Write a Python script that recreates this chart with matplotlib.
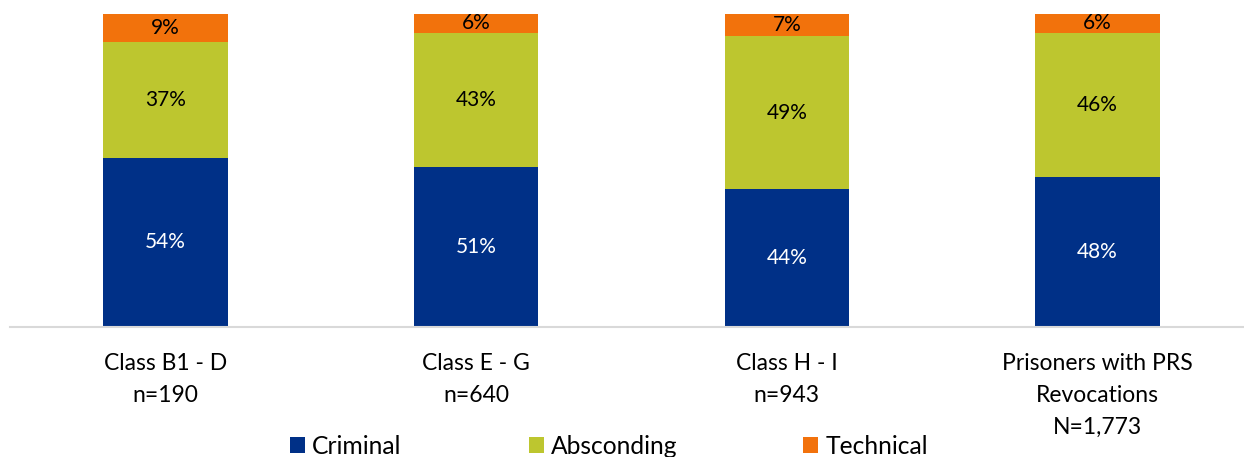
import matplotlib
matplotlib.use("Agg")
import matplotlib.pyplot as plt
import numpy as np

categories = ["Class B1 - D\nn=190", "Class E - G\nn=640", "Class H - I\nn=943",
              "Prisoners with PRS\nRevocations\nN=1,773"]
criminal = [54, 51, 44, 48]
absconding = [37, 43, 49, 46]
technical = [9, 6, 7, 6]
series_names = ["Criminal", "Absconding", "Technical"]
colors = ["#003087", "#BDC62F", "#F2720C"]

plt.rcParams['font.family'] = ['Lato', 'DejaVu Sans']

W, H = 1244, 457
fig = plt.figure(figsize=(W / 100, H / 100), dpi=100)
ax = fig.add_axes([10 / W, (H - 327) / H, 1243 / W, 313 / H])

x = np.arange(len(categories))
bw = 0.40
series = [criminal, absconding, technical]
bottom = np.zeros(len(categories))
handles = []
for vals, name, col in zip(series, series_names, colors):
    vals = np.array(vals, dtype=float)
    b = ax.bar(x, vals, bw, bottom=bottom, color=col, label=name, linewidth=0)
    handles.append(b)
    tc = "white" if name == "Criminal" else "black"
    for xi, v, bt in zip(x, vals, bottom):
        ax.text(xi, bt + v / 2, f"{int(round(v))}%", ha="center", va="center",
                color=tc, fontsize=15)
    bottom += vals

ax.set_xlim(-0.5, 3.5)
ax.set_ylim(0, 100)
for s in ["top", "right", "left"]:
    ax.spines[s].set_visible(False)
ax.spines["bottom"].set_color("#D9D9D9")
ax.spines["bottom"].set_linewidth(1.5)
ax.set_yticks([])
ax.set_xticks(x)
ax.set_xticklabels(categories, fontsize=16.5, linespacing=1.62, va="top")
ax.tick_params(axis="x", length=0, pad=19)

legend_x = [290, 529, 803]
for h, name, lx in zip(handles, series_names, legend_x):
    fig.legend(handles=[h], labels=[name], loc="center left",
               bbox_to_anchor=(lx / W, (H - 446) / H), frameon=False,
               fontsize=17.7, handlelength=0.6, handleheight=0.6, handletextpad=0.3,
               borderaxespad=0, borderpad=0)

fig.savefig("out.png", dpi=100)
